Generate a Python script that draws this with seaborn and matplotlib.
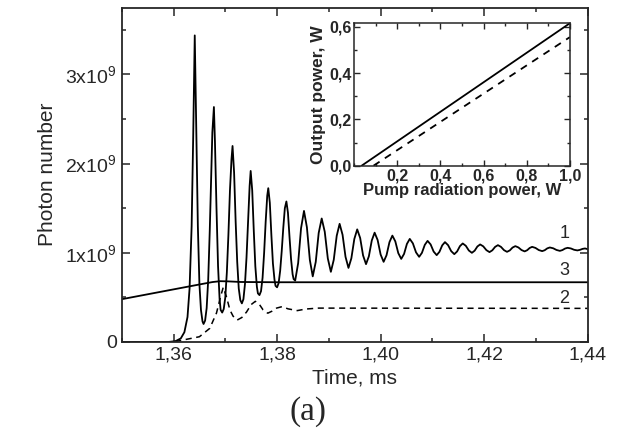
import numpy as np
import pandas as pd
import matplotlib
matplotlib.use("Agg")
import matplotlib.pyplot as plt
import seaborn as sns
from matplotlib.ticker import MultipleLocator, FixedLocator, FixedFormatter

# curve 1: photon number (x1e9) vs time (ms)
curve1 = [
    (1.3500, 0.000), (1.3590, 0.000), (1.3604, 0.010), (1.3614, 0.040), (1.3621, 0.110),
    (1.3627, 0.280), (1.3631, 0.600), (1.3635, 1.300), (1.3638, 2.300), (1.3641, 3.438),
    (1.3644, 2.350), (1.3647, 1.300), (1.3650, 0.650), (1.3653, 0.360), (1.3656, 0.230),
    (1.3658, 0.202),
    (1.3661, 0.240), (1.3664, 0.380), (1.3667, 0.700), (1.3670, 1.250), (1.3673, 1.900),
    (1.3675, 2.350), (1.3678, 2.635),
    (1.3680, 2.250), (1.3683, 1.500), (1.3686, 0.850), (1.3689, 0.480), (1.3691, 0.360),
    (1.3694, 0.330),
    (1.3697, 0.370), (1.3700, 0.500), (1.3703, 0.780), (1.3706, 1.200), (1.3709, 1.700),
    (1.3712, 2.050), (1.3714, 2.198),
    (1.3717, 1.900), (1.3720, 1.350), (1.3723, 0.900), (1.3726, 0.600), (1.3729, 0.470),
    (1.3732, 0.433),
    (1.3735, 0.480), (1.3738, 0.650), (1.3741, 0.950), (1.3744, 1.350), (1.3747, 1.750),
    (1.3749, 1.918),
    (1.3752, 1.700), (1.3755, 1.250), (1.3758, 0.850), (1.3761, 0.620), (1.3763, 0.545),
    (1.3766, 0.526),
    (1.3769, 0.570), (1.3772, 0.720), (1.3775, 1.000), (1.3778, 1.350), (1.3781, 1.640),
    (1.3783, 1.725),
    (1.3786, 1.560), (1.3789, 1.200), (1.3792, 0.880), (1.3795, 0.700), (1.3797, 0.630),
    (1.3800, 0.613),
    (1.3803, 0.660), (1.3806, 0.800), (1.3809, 1.020), (1.3812, 1.280), (1.3815, 1.500),
    (1.3818, 1.576),
    (1.3821, 1.450), (1.3824, 1.180), (1.3827, 0.930), (1.3830, 0.760), (1.3832, 0.705),
    (1.3835, 0.689),
    (1.38407, 0.884), (1.38463, 1.275), (1.38520, 1.470),
    (1.38576, 1.287), (1.38633, 0.920), (1.38689, 0.736),
    (1.38747, 0.898), (1.38804, 1.223), (1.38862, 1.385),
    (1.38921, 1.236), (1.38980, 0.937), (1.39039, 0.787),
    (1.39095, 0.922), (1.39152, 1.191), (1.39208, 1.325),
    (1.39265, 1.202), (1.39322, 0.955), (1.39379, 0.831),
    (1.39435, 0.939), (1.39492, 1.155), (1.39548, 1.263),
    (1.39605, 1.166), (1.39661, 0.971), (1.39718, 0.873),
    (1.39773, 0.961), (1.39829, 1.138), (1.39884, 1.226),
    (1.39942, 1.144), (1.40000, 0.981), (1.40058, 0.899),
    (1.40114, 0.973), (1.40171, 1.120), (1.40227, 1.193),
    (1.40284, 1.128), (1.40341, 0.997), (1.40398, 0.932),
    (1.40453, 0.988), (1.40508, 1.100), (1.40563, 1.156),
    (1.40623, 1.106), (1.40684, 1.005), (1.40744, 0.955),
    (1.40798, 1.000), (1.40853, 1.089), (1.40907, 1.134),
    (1.40966, 1.094), (1.41024, 1.014), (1.41083, 0.974),
    (1.41136, 1.011), (1.41190, 1.084), (1.41243, 1.120),
    (1.41303, 1.086), (1.41363, 1.019), (1.41423, 0.985),
    (1.41477, 1.015), (1.41532, 1.075), (1.41586, 1.105),
    (1.41645, 1.079), (1.41704, 1.026), (1.41763, 1.000),
    (1.41816, 1.024), (1.41869, 1.071), (1.41922, 1.094),
    (1.41982, 1.073), (1.42043, 1.030), (1.42103, 1.008),
    (1.42157, 1.028), (1.42212, 1.067), (1.42266, 1.086),
    (1.42324, 1.067), (1.42383, 1.030), (1.42441, 1.011),
    (1.42495, 1.027), (1.42548, 1.059), (1.42602, 1.075),
    (1.42662, 1.060), (1.42722, 1.031), (1.42782, 1.016),
    (1.42830, 1.029), (1.42878, 1.054), (1.42926, 1.067),
    (1.42991, 1.055), (1.43055, 1.031), (1.43120, 1.019),
    (1.43169, 1.029), (1.43219, 1.050), (1.43268, 1.060),
    (1.43333, 1.051), (1.43397, 1.032), (1.43462, 1.022),
    (1.43512, 1.031), (1.43562, 1.048), (1.43612, 1.056),
    (1.43675, 1.049), (1.43737, 1.034), (1.43800, 1.027),
    (1.43849, 1.033), (1.43899, 1.044), (1.43948, 1.049),
    (1.44000, 1.041),
]

# curve 2 (dashed)
curve2 = [
    (1.3500, 0.000), (1.3602, 0.003), (1.3625, 0.030), (1.3650, 0.059), (1.3670, 0.153),
    (1.3683, 0.325), (1.3691, 0.511), (1.3696, 0.613), (1.3702, 0.511), (1.3709, 0.358),
    (1.3715, 0.290), (1.3723, 0.246), (1.3732, 0.275), (1.3741, 0.336), (1.3750, 0.420),
    (1.3758, 0.456), (1.3766, 0.420), (1.3773, 0.360), (1.3782, 0.323), (1.3790, 0.345),
    (1.3799, 0.380), (1.3810, 0.397), (1.3821, 0.372), (1.3839, 0.352), (1.3856, 0.370),
    (1.3880, 0.380), (1.4400, 0.377),
]

# curve 3
curve3 = [
    (1.3500, 0.480), (1.3550, 0.535), (1.3600, 0.590), (1.3650, 0.645), (1.3675, 0.672),
    (1.3690, 0.682), (1.3705, 0.680), (1.3730, 0.673), (1.3800, 0.670), (1.4400, 0.670),
]

x_ticks = [1.36, 1.38, 1.40, 1.42, 1.44]
x_labels = ["1,36", "1,38", "1,40", "1,42", "1,44"]
y_ticks = [0, 1, 2, 3]
y_labels = ["0", "1x10$^9$", "2x10$^9$", "3x10$^9$"]

# inset: output power vs pump power (W)
pump_solid = [0.035, 1.0]
out_solid = [0.0, 0.615]
pump_dash = [0.09, 1.0]
out_dash = [0.0, 0.555]
inset_x_ticks = [0.2, 0.4, 0.6, 0.8, 1.0]
inset_x_labels = ["0,2", "0,4", "0,6", "0,8", "1,0"]
inset_y_ticks = [0.0, 0.2, 0.4, 0.6]
inset_y_labels = ["0,0", "0,2", "0,4", "0,6"]

sns.set_style("ticks")
plt.rcParams["font.family"] = ["Liberation Sans", "DejaVu Sans"]
plt.rcParams["mathtext.default"] = "regular"

df1 = pd.DataFrame(curve1, columns=["t", "n"])
df2 = pd.DataFrame(curve2, columns=["t", "n"])
df3 = pd.DataFrame(curve3, columns=["t", "n"])

fig = plt.figure(figsize=(6.18, 4.36), dpi=100)
ax = fig.add_axes([0.197, 0.2156, 0.754, 0.767])

sns.lineplot(data=df1, x="t", y="n", color="black", linewidth=1.3, sort=False, estimator=None, ax=ax)
sns.lineplot(data=df2, x="t", y="n", color="black", linewidth=1.1, linestyle=(0, (4, 3)),
             sort=False, estimator=None, ax=ax)
sns.lineplot(data=df3, x="t", y="n", color="black", linewidth=1.3, sort=False, estimator=None, ax=ax)

ax.set_xlim(1.35, 1.44)
ax.set_ylim(0, 3.75)
ax.xaxis.set_major_locator(FixedLocator(x_ticks))
ax.xaxis.set_major_formatter(FixedFormatter(x_labels))
ax.xaxis.set_minor_locator(MultipleLocator(0.01))
ax.yaxis.set_major_locator(FixedLocator(y_ticks))
ax.yaxis.set_major_formatter(FixedFormatter(y_labels))
ax.yaxis.set_minor_locator(MultipleLocator(0.5))
ax.tick_params(which="both", direction="in", top=True, right=True, labelsize=14, width=1.1)
ax.tick_params(which="major", length=6)
ax.tick_params(which="minor", length=3)
for s in ax.spines.values():
    s.set_linewidth(1.3)
ax.set_xlabel("Time, ms", fontsize=15, labelpad=3)
ax.set_ylabel("Photon number", fontsize=15, labelpad=6)

ax.text(1.4355, 1.22, "1", fontsize=13, ha="center", va="center")
ax.text(1.4355, 0.80, "3", fontsize=13, ha="center", va="center")
ax.text(1.4355, 0.49, "2", fontsize=13, ha="center", va="center")

# inset
ins = fig.add_axes([0.573, 0.620, 0.349, 0.3266])
sns.lineplot(x=pump_solid, y=out_solid, color="black", linewidth=1.3, ax=ins)
sns.lineplot(x=pump_dash, y=out_dash, color="black", linewidth=1.3, linestyle=(0, (4, 3.5)), ax=ins)
ins.set_xlim(0, 1.0)
ins.set_ylim(0, 0.615)
ins.xaxis.set_major_locator(FixedLocator(inset_x_ticks))
ins.xaxis.set_major_formatter(FixedFormatter(inset_x_labels))
ins.xaxis.set_minor_locator(MultipleLocator(0.1))
ins.yaxis.set_major_locator(FixedLocator(inset_y_ticks))
ins.yaxis.set_major_formatter(FixedFormatter(inset_y_labels))
ins.yaxis.set_minor_locator(MultipleLocator(0.1))
ins.tick_params(which="both", direction="in", top=True, right=True, labelsize=11.5, width=1.0, pad=2)
ins.tick_params(which="major", length=4)
ins.tick_params(which="minor", length=2)
for lab in ins.get_xticklabels() + ins.get_yticklabels():
    lab.set_fontweight("bold")
for s in ins.spines.values():
    s.set_linewidth(1.1)
ins.set_xlabel("Pump radiation power, W", fontsize=12, fontweight="bold", labelpad=0)
ins.set_ylabel("Output power, W", fontsize=12.5, fontweight="bold", labelpad=2)

fig.text(0.498, 0.055, "(a)", fontsize=24, family=["Liberation Serif", "DejaVu Serif"],
         ha="center", va="center")

fig.savefig("out.png", dpi=100)
